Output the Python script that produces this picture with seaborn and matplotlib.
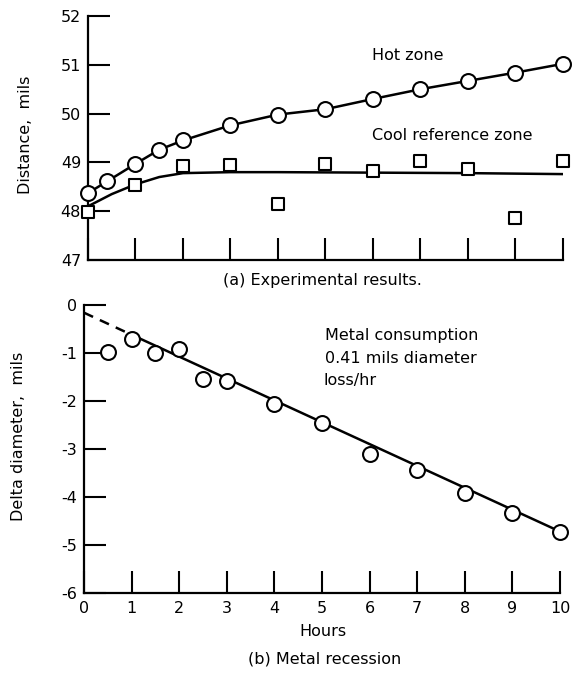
# ==========================================
# Hot zone / metal recession chart
# ==========================================

import matplotlib
matplotlib.use("Agg")
import pandas as pd
import matplotlib.pyplot as plt
import seaborn as sns

# ------------------------------------------
# Data
# ------------------------------------------

hot_hours = [0, 0.4, 1, 1.5, 2, 3, 4, 5, 6, 7, 8, 9, 10]
hot_dist = [48.37, 48.61, 48.97, 49.26, 49.45, 49.76, 49.98, 50.09, 50.3, 50.5, 50.67, 50.84, 51.02]

cool_hours = [0, 1, 2, 3, 4, 5, 6, 7, 8, 9, 10]
cool_dist = [47.99, 48.54, 48.92, 48.95, 48.14, 48.97, 48.83, 49.02, 48.86, 47.87, 49.02]

cool_fit_hours = [0, 0.5, 1, 1.5, 2, 3, 4, 6, 8, 10]
cool_fit_dist = [48.1, 48.35, 48.55, 48.7, 48.78, 48.8, 48.8, 48.79, 48.78, 48.76]

rec_hours = [0.5, 1, 1.5, 2, 2.5, 3, 4, 5, 6, 7, 8, 9, 10]
rec_delta = [-0.98, -0.70, -0.99, -0.92, -1.54, -1.58, -2.07, -2.46, -3.11, -3.43, -3.92, -4.34, -4.72]

fit_hours = [0, 1, 10]
fit_delta = [-0.16, -0.62, -4.72]

top_yticks = [47, 48, 49, 50, 51, 52]
bottom_yticks = [0, -1, -2, -3, -4, -5, -6]
hour_ticks = list(range(0, 11))

hot = pd.DataFrame({"Hours": hot_hours, "Distance": hot_dist})
cool = pd.DataFrame({"Hours": cool_hours, "Distance": cool_dist})
cool_fit = pd.DataFrame({"Hours": cool_fit_hours, "Distance": cool_fit_dist})
rec = pd.DataFrame({"Hours": rec_hours, "Delta": rec_delta})
fit = pd.DataFrame({"Hours": fit_hours, "Delta": fit_delta})

# ------------------------------------------
# Style
# ------------------------------------------

sns.set_style("ticks")
plt.rcParams["font.family"] = ["DejaVu Sans"]
plt.rcParams["font.size"] = 11.5
plt.rcParams["text.color"] = "black"
plt.rcParams["xtick.color"] = "black"
plt.rcParams["ytick.color"] = "black"
plt.rcParams["axes.edgecolor"] = "black"
plt.rcParams["axes.unicode_minus"] = False

fig = plt.figure(figsize=(5.74, 6.73), dpi=100)
ax1 = fig.add_axes([0.1533, 0.6137, 0.8275, 0.3625])
ax2 = fig.add_axes([0.1463, 0.1189, 0.8293, 0.4279])

lw = 1.8
marker_kw = dict(facecolor="white", edgecolor="black", linewidth=1.5, clip_on=False, zorder=5)

# ------------------------------------------
# (a) Experimental results
# ------------------------------------------

sns.lineplot(data=hot, x="Hours", y="Distance", ax=ax1, color="black", linewidth=lw)
sns.lineplot(data=cool_fit, x="Hours", y="Distance", ax=ax1, color="black", linewidth=lw)
sns.scatterplot(data=hot, x="Hours", y="Distance", ax=ax1, marker="o", s=115, **marker_kw)
sns.scatterplot(data=cool, x="Hours", y="Distance", ax=ax1, marker="s", s=85, **marker_kw)

ax1.set_xlim(0, 10)
ax1.set_ylim(47, 52)
ax1.set_xticks(hour_ticks)
ax1.set_xticklabels([])
ax1.set_yticks(top_yticks)
ax1.set_xlabel("")
ax1.set_ylabel("")

# ------------------------------------------
# (b) Metal recession
# ------------------------------------------

sns.lineplot(data=fit.iloc[:2], x="Hours", y="Delta", ax=ax2, color="black",
             linewidth=lw, linestyle=(0, (4, 3)))
sns.lineplot(data=fit.iloc[1:], x="Hours", y="Delta", ax=ax2, color="black", linewidth=lw)
sns.scatterplot(data=rec, x="Hours", y="Delta", ax=ax2, marker="o", s=115, **marker_kw)

ax2.set_xlim(0, 10)
ax2.set_ylim(-6, 0)
ax2.set_xticks(hour_ticks)
ax2.set_yticks(bottom_yticks)
ax2.set_xlabel("")
ax2.set_ylabel("")

for ax in (ax1, ax2):
    sns.despine(ax=ax)
    for side in ("left", "bottom"):
        ax.spines[side].set_linewidth(1.6)
    ax.tick_params(direction="in", length=16, width=1.5, pad=5, labelsize=11.5)
    ax.tick_params(axis="x", pad=6)

# ------------------------------------------
# Text
# ------------------------------------------

fig.text(0.648, 0.918, "Hot zone", va="center")
fig.text(0.648, 0.798, "Cool reference zone", va="center")
fig.text(0.561, 0.5825, "(a) Experimental results.", ha="center", va="center")

fig.text(0.566, 0.502, "Metal consumption", va="center")
fig.text(0.566, 0.468, "0.41 mils diameter", va="center")
fig.text(0.563, 0.434, "loss/hr", va="center")

fig.text(0.563, 0.061, "Hours", ha="center", va="center")
fig.text(0.565, 0.021, "(b) Metal recession", ha="center", va="center")

fig.text(0.0436, 0.799, "Distance,  mils", rotation=90, ha="center", va="center")
fig.text(0.033, 0.352, "Delta diameter,  mils", rotation=90, ha="center", va="center")

plt.savefig("out.png", dpi=100)
